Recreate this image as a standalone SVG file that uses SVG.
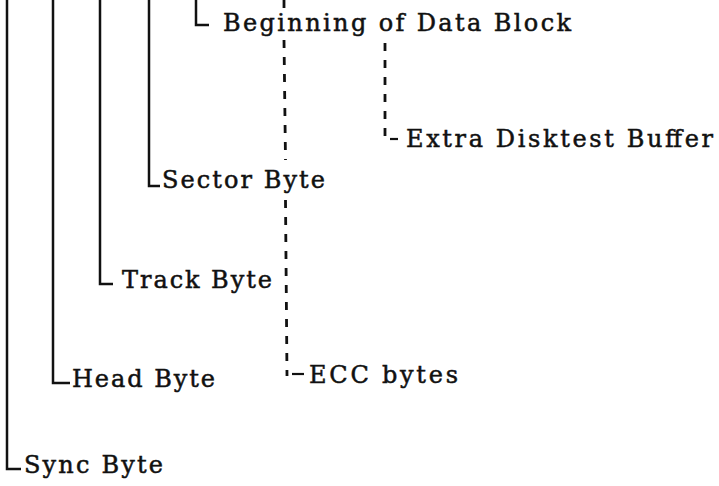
<svg xmlns="http://www.w3.org/2000/svg" width="719" height="486" viewBox="0 0 719 486">
<style>
.lbl{font-family:"DejaVu Serif","Liberation Serif",serif;font-size:24px;fill:#111;stroke:#111;stroke-width:0.5}
.solid{fill:none;stroke:#111;stroke-width:2.5}
.dash{fill:none;stroke:#111;stroke-width:2.8;stroke-dasharray:8 9}
.tick{fill:none;stroke:#111;stroke-width:2.2}
</style>
<rect width="719" height="486" fill="#fff"/>
<g id="connectors">
<path class="solid" d="M7,0 V469 H21"/>
<path class="solid" d="M53,0 V383 H70"/>
<path class="solid" d="M100,0 V284 H113"/>
<path class="solid" d="M149,0 V186 H160"/>
<path class="solid" d="M196,0 V25 H209"/>
<path class="dash" d="M284,0 V9"/>
<path class="dash" d="M284,40 L285.5,160"/>
<path class="dash" d="M285.5,200 L287,376"/>
<path class="tick" d="M292,374 H304"/>
<path class="dash" d="M385,43 V141"/>
<path class="tick" d="M390,139 H398"/>
</g>
<g id="beginning"><text class="lbl" x="223" y="31" textLength="348" lengthAdjust="spacing">Beginning of Data Block</text></g>
<g id="extra"><text class="lbl" x="406" y="147" textLength="307" lengthAdjust="spacing">Extra Disktest Buffer</text></g>
<g id="sector"><text class="lbl" x="162" y="188" textLength="163" lengthAdjust="spacing">Sector Byte</text></g>
<g id="track"><text class="lbl" x="122" y="288" textLength="150" lengthAdjust="spacing">Track Byte</text></g>
<g id="ecc"><text class="lbl" x="309" y="383" textLength="149" lengthAdjust="spacing">ECC bytes</text></g>
<g id="head"><text class="lbl" x="72" y="387" textLength="143" lengthAdjust="spacing">Head Byte</text></g>
<g id="sync"><text class="lbl" x="24" y="473" textLength="139" lengthAdjust="spacing">Sync Byte</text></g>
</svg>
